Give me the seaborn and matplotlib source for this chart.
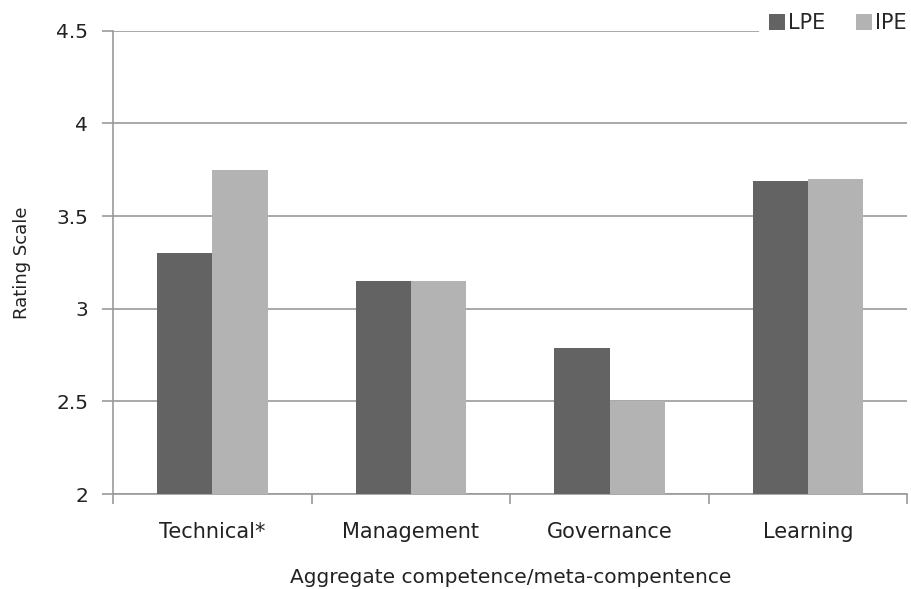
import numpy as np
import pandas as pd
import matplotlib
matplotlib.use('Agg')
import matplotlib.pyplot as plt
import seaborn as sns

# data
categories = ['Technical*', 'Management', 'Governance', 'Learning']
lpe = [3.30, 3.15, 2.79, 3.69]
ipe = [3.75, 3.15, 2.50, 3.70]
groups = ['LPE', 'IPE']

df = pd.DataFrame({
    'category': categories * 2,
    'group': ['LPE'] * len(categories) + ['IPE'] * len(categories),
    'value': lpe + ipe,
})

sns.set_style('white')
plt.rcParams['font.family'] = ['DejaVu Sans']

fig, ax = plt.subplots(figsize=(9.12, 5.89), dpi=100)
fig.subplots_adjust(left=0.124, right=0.995, top=0.948, bottom=0.161)

sns.barplot(data=df, x='category', y='value', hue='group', hue_order=groups,
            palette={'LPE': '#636363', 'IPE': '#b3b3b3'}, width=0.556,
            saturation=1, linewidth=0, ax=ax, zorder=3)

ax.set_ylim(2, 4.5)
ax.set_yticks([2, 2.5, 3, 3.5, 4, 4.5])
ax.set_yticklabels(['2', '2.5', '3', '3.5', '4', '4.5'])
ax.set_xlim(-0.5, 3.5)
ax.yaxis.grid(True, color='#9a9a9a', linewidth=1.2, zorder=0)
ax.set_axisbelow(True)

for s in ['top', 'right']:
    ax.spines[s].set_visible(False)
for s in ['left', 'bottom']:
    ax.spines[s].set_color('#9a9a9a')
    ax.spines[s].set_linewidth(1.2)

# ticks on the x axis at category boundaries
ax.set_xticks([0, 1, 2, 3])
ax.set_xticks([-0.5, 0.5, 1.5, 2.5, 3.5], minor=True)
ax.tick_params(axis='x', which='major', bottom=False, length=0, pad=20, labelsize=15, colors='#222222')
ax.tick_params(axis='x', which='minor', bottom=True, length=7, color='#9a9a9a', width=1.2)
ax.tick_params(axis='y', length=8, color='#9a9a9a', width=1.2, labelsize=14.5,
               labelcolor='#222222', left=True, pad=10)

ax.set_xlabel('Aggregate competence/meta-compentence', fontsize=14.5, labelpad=19, color='#222222')
ax.set_ylabel('Rating Scale', fontsize=13, labelpad=18, color='#222222')

handles, labels = ax.get_legend_handles_labels()
leg = ax.legend(handles, labels, loc='upper right', bbox_to_anchor=(1.012, 1.06),
                ncol=2, frameon=True, fontsize=15, handlelength=0.75, handleheight=0.75,
                handletextpad=0.15, columnspacing=1.5, borderpad=0.5, borderaxespad=0,
                facecolor='white', edgecolor='white', framealpha=1)
leg.get_frame().set_linewidth(0)
leg.set_zorder(5)

fig.savefig('out.png', dpi=100)
